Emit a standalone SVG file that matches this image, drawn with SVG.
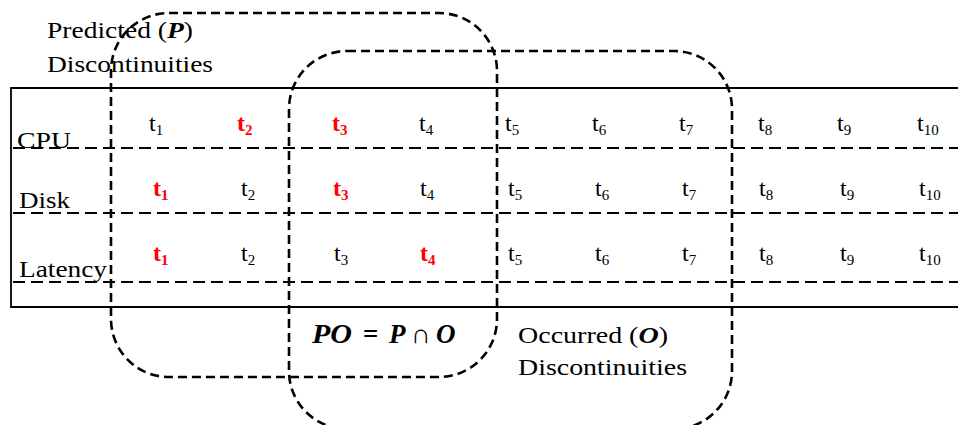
<svg xmlns="http://www.w3.org/2000/svg" width="958" height="425" viewBox="0 0 958 425" font-family="'Liberation Serif','Times New Roman',serif">
<style>
text{font-family:"Liberation Serif","Times New Roman",serif;fill:#000}
.lbl{font-size:24px}
.t{font-size:24px}
.s{font-size:15px}
.r{fill:#ff0000;font-weight:bold}
.bi{font-weight:bold;font-style:italic}
.f{font-size:27px}
.grid{stroke:#000;stroke-width:2;stroke-dasharray:12 6;fill:none}
.solid{stroke:#000;stroke-width:1.8;fill:none}
.set{stroke:#000;stroke-width:2.6;stroke-dasharray:9 5;fill:none}
</style>
<rect width="958" height="425" fill="#fff"/>
<g id="table">
<path class="solid" d="M970 88 H11 V307 H970"/>
<line class="grid" x1="13" y1="148" x2="958" y2="148"/>
<line class="grid" x1="13" y1="213" x2="958" y2="213"/>
<line class="grid" x1="13" y1="282" x2="958" y2="282"/>
</g>
<g id="row-labels">
<text class="lbl" x="17" y="148" textLength="54" lengthAdjust="spacingAndGlyphs">CPU</text>
<text class="lbl" x="19" y="208" textLength="51" lengthAdjust="spacingAndGlyphs">Disk</text>
<text class="lbl" x="19" y="277" textLength="88" lengthAdjust="spacingAndGlyphs">Latency</text>
</g>
<g id="row-cpu">
<text class="t" x="149" y="131">t<tspan class="s" dy="4">1</tspan></text>
<text class="t r" x="237" y="131">t<tspan class="s" dy="4">2</tspan></text>
<text class="t r" x="332" y="131">t<tspan class="s" dy="4">3</tspan></text>
<text class="t" x="419" y="131">t<tspan class="s" dy="4">4</tspan></text>
<text class="t" x="505" y="131">t<tspan class="s" dy="4">5</tspan></text>
<text class="t" x="592" y="131">t<tspan class="s" dy="4">6</tspan></text>
<text class="t" x="679" y="131">t<tspan class="s" dy="4">7</tspan></text>
<text class="t" x="758" y="131">t<tspan class="s" dy="4">8</tspan></text>
<text class="t" x="837" y="131">t<tspan class="s" dy="4">9</tspan></text>
<text class="t" x="917" y="131">t<tspan class="s" dy="4">10</tspan></text>
</g>
<g id="row-disk">
<text class="t r" x="153" y="196">t<tspan class="s" dy="4">1</tspan></text>
<text class="t" x="241" y="196">t<tspan class="s" dy="4">2</tspan></text>
<text class="t r" x="333" y="196">t<tspan class="s" dy="4">3</tspan></text>
<text class="t" x="420" y="196">t<tspan class="s" dy="4">4</tspan></text>
<text class="t" x="508" y="196">t<tspan class="s" dy="4">5</tspan></text>
<text class="t" x="595" y="196">t<tspan class="s" dy="4">6</tspan></text>
<text class="t" x="682" y="196">t<tspan class="s" dy="4">7</tspan></text>
<text class="t" x="759" y="196">t<tspan class="s" dy="4">8</tspan></text>
<text class="t" x="840" y="196">t<tspan class="s" dy="4">9</tspan></text>
<text class="t" x="919" y="196">t<tspan class="s" dy="4">10</tspan></text>
</g>
<g id="row-latency">
<text class="t r" x="153" y="261">t<tspan class="s" dy="4">1</tspan></text>
<text class="t" x="241" y="261">t<tspan class="s" dy="4">2</tspan></text>
<text class="t" x="334" y="261">t<tspan class="s" dy="4">3</tspan></text>
<text class="t r" x="420" y="261">t<tspan class="s" dy="4">4</tspan></text>
<text class="t" x="508" y="261">t<tspan class="s" dy="4">5</tspan></text>
<text class="t" x="595" y="261">t<tspan class="s" dy="4">6</tspan></text>
<text class="t" x="682" y="261">t<tspan class="s" dy="4">7</tspan></text>
<text class="t" x="759" y="261">t<tspan class="s" dy="4">8</tspan></text>
<text class="t" x="840" y="261">t<tspan class="s" dy="4">9</tspan></text>
<text class="t" x="919" y="261">t<tspan class="s" dy="4">10</tspan></text>
</g>
<g id="set-P">
<rect class="set" x="111" y="13" width="386" height="364" rx="58" ry="58"/>
<text class="lbl" x="47" y="38" textLength="146" lengthAdjust="spacingAndGlyphs">Predicted (<tspan class="bi">P</tspan>)</text>
<text class="lbl" x="47" y="72" textLength="166" lengthAdjust="spacingAndGlyphs">Discontinuities</text>
</g>
<g id="set-O">
<rect class="set" x="289" y="51" width="443" height="378" rx="58" ry="58"/>
<text class="lbl" x="518" y="343" textLength="150" lengthAdjust="spacingAndGlyphs">Occurred (<tspan class="bi">O</tspan>)</text>
<text class="lbl" x="518" y="375" textLength="169" lengthAdjust="spacingAndGlyphs">Discontinuities</text>
</g>
<g id="intersection">
<text class="f bi" x="312" y="343" textLength="40" lengthAdjust="spacingAndGlyphs">PO</text>
<text class="f" x="363" y="343" font-weight="bold">=</text>
<text class="f bi" x="389" y="343">P</text>
<text class="f" x="411" y="343" font-size="30">∩</text>
<text class="f bi" x="436" y="343">O</text>
</g>
</svg>
